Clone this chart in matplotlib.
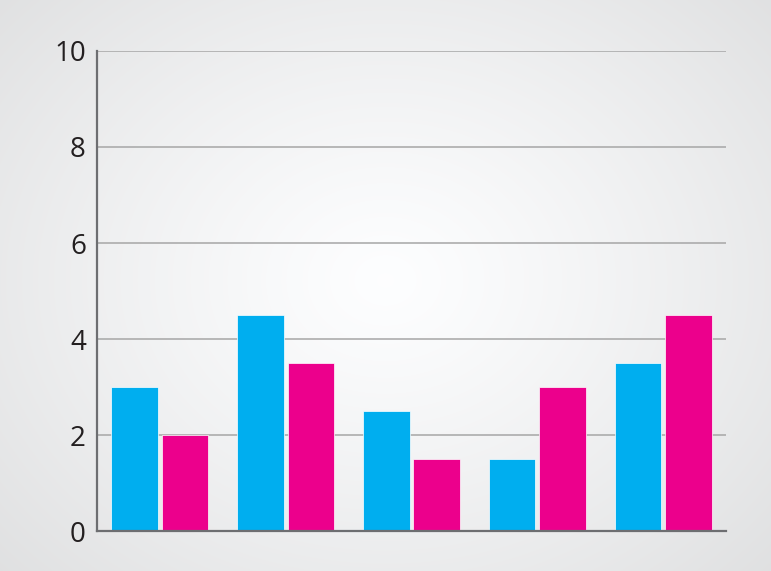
import numpy as np
import matplotlib.pyplot as plt

# data
groups = ['A', 'B', 'C', 'D', 'E']
blue_vals = [3, 4.5, 2.5, 1.5, 3.5]
pink_vals = [2, 3.5, 1.5, 3, 4.5]
yticks = [0, 2, 4, 6, 8, 10]

plt.rcParams['font.family'] = ['Open Sans', 'DejaVu Sans']

fig = plt.figure(figsize=(7.71, 5.71), dpi=100)

# radial gradient background
bg = fig.add_axes([0, 0, 1, 1])
yy, xx = np.mgrid[0:571, 0:771]
r = np.sqrt(((xx - 385) / 540.0) ** 2 + ((yy - 280) / 440.0) ** 2)
r = np.clip(r, 0, 1)
shade = 1.0 - 0.12 * r ** 1.2
img = np.dstack([shade * 0.993, shade * 0.996, shade * 1.0])
img = np.clip(img, 0, 1)
bg.imshow(img, aspect='auto', extent=[0, 1, 0, 1])
bg.set_axis_off()

ax = fig.add_axes([0.1258, 0.070, 0.8158, 0.8407])
ax.patch.set_alpha(0)

x = np.arange(len(groups))
w = 0.37
ax.bar(x - 0.2, blue_vals, w, color='#00AEEF', edgecolor='white', linewidth=0.5, zorder=3)
ax.bar(x + 0.2, pink_vals, w, color='#EC008C', edgecolor='white', linewidth=0.5, zorder=3)

ax.set_xlim(-0.5, len(groups) - 0.5)
ax.set_ylim(0, 10)
ax.set_yticks(yticks)
ax.set_xticks([])
ax.yaxis.grid(True, color='#a6a6a6', linewidth=1.1, zorder=1)
ax.tick_params(axis='y', length=0, pad=8, labelsize=20, labelcolor='#231f20')

for s in ['top', 'right']:
    ax.spines[s].set_visible(False)
for s in ['left', 'bottom']:
    ax.spines[s].set_color('#6d6e71')
    ax.spines[s].set_linewidth(1.6)
    ax.spines[s].set_zorder(4)

fig.savefig('out.png', dpi=100)
